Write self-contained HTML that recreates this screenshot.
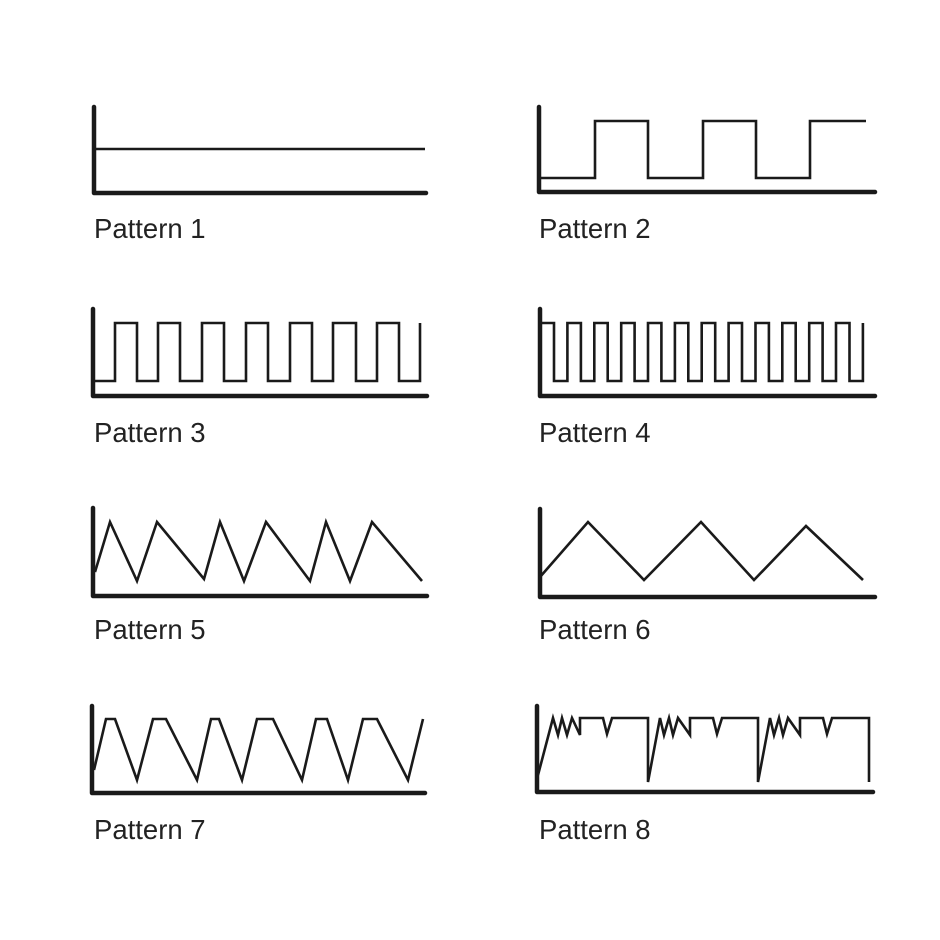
<!DOCTYPE html>
<html><head><meta charset="utf-8"><style>
html,body{margin:0;padding:0;background:#fff;}
svg{display:block;}
text{font-family:"Liberation Sans",Arial,sans-serif;font-size:27.5px;fill:#222;}
.ax{fill:none;stroke:#1a1a1a;stroke-width:4.5;stroke-linecap:round;stroke-linejoin:round;}
.s{fill:none;stroke:#1a1a1a;stroke-width:2.6;stroke-linejoin:miter;}
</style></head><body>
<svg width="940" height="940" viewBox="0 0 940 940" xmlns="http://www.w3.org/2000/svg">
<rect width="940" height="940" fill="#fff"/>
<polyline class="ax" points="94,107 94,193 426,193"/>
<polyline class="s" points="94,149 425,149"/>
<text x="94" y="238">Pattern 1</text>
<polyline class="ax" points="539,107 539,192 875,192"/>
<polyline class="s" points="539,178 595,178 595,121 648,121 648,178 703,178 703,121 756,121 756,178 810,178 810,121 866,121"/>
<text x="539" y="238">Pattern 2</text>
<polyline class="ax" points="93,309 93,396 427,396"/>
<polyline class="s" points="95,381 115,381 115,323 137,323 137,381 158,381 158,323 180,323 180,381 202,381 202,323 224,323 224,381 246,381 246,323 268,323 268,381 290,381 290,323 312,323 312,381 333,381 333,323 356,323 356,381 377,381 377,323 399,323 399,381 420,381 420,323"/>
<text x="94" y="442">Pattern 3</text>
<polyline class="ax" points="540,309 540,396 875,396"/>
<polyline class="s" points="540,323 554,323 554,381 567.4,381 567.4,323 580.9,323 580.9,381 594.3,381 594.3,323 607.7,323 607.7,381 621.2,381 621.2,323 634.6,323 634.6,381 648,381 648,323 661.4,323 661.4,381 674.9,381 674.9,323 688.3,323 688.3,381 701.7,381 701.7,323 715.2,323 715.2,381 728.6,381 728.6,323 742,323 742,381 755.5,381 755.5,323 768.9,323 768.9,381 782.3,381 782.3,323 795.7,323 795.7,381 809.2,381 809.2,323 822.6,323 822.6,381 836,381 836,323 849.5,323 849.5,381 862.9,381 862.9,323"/>
<text x="539" y="442">Pattern 4</text>
<polyline class="ax" points="93,508 93,596 427,596"/>
<polyline class="s" points="95,572 110,522 137,581 157,522 204,579 220,522 244,581 266,522 310,581 326,522 350,581 372,522 422,581"/>
<text x="94" y="639">Pattern 5</text>
<polyline class="ax" points="540,509 540,597 875,597"/>
<polyline class="s" points="540,577 588,522 644,580 701,522 754,580 806,526 863,580"/>
<text x="539" y="639">Pattern 6</text>
<polyline class="ax" points="92,706 92,793 425,793"/>
<polyline class="s" points="94,770 106,719 115,719 137,780 153,719 166,719 197,780 211,719 219,719 242,780 257,719 273,719 302,780 316,719 327,719 348,780 363,719 377,719 408,780 423,719"/>
<text x="94" y="839">Pattern 7</text>
<polyline class="ax" points="537,706 537,792 873,792"/>
<polyline class="s" points="538,775 553,718 558,735 562,718 567,735 572,718 580,735 580,718 603,718 607,734 612,718 648,718 648,782 660,718 664,735 669,718 673,735 678,718 690,735 690,718 713,718 717,734 722,718 758,718 758,782 770,718 774,735 779,718 783,735 788,718 800,735 800,718 823,718 827,734 832,718 869,718 869,782"/>
<text x="539" y="839">Pattern 8</text>
</svg>
</body></html>
